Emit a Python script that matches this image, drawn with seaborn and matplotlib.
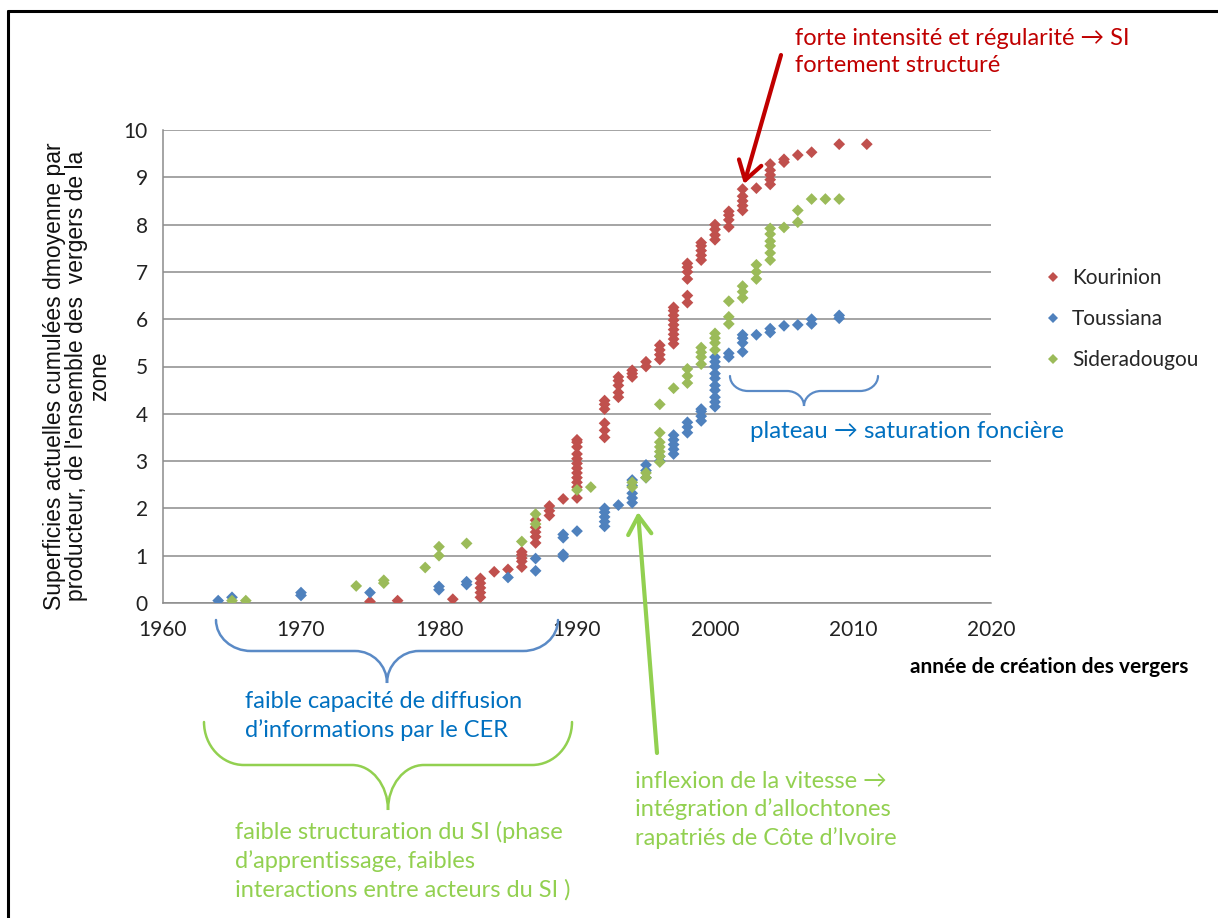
import numpy as np
import pandas as pd
import matplotlib
matplotlib.use("Agg")
import matplotlib.pyplot as plt
import seaborn as sns
from matplotlib.path import Path
from matplotlib.patches import PathPatch, FancyArrowPatch
from matplotlib.lines import Line2D

# ---- data -----------------------------------------------------------------
series_names = ["Kourinion", "Toussiana", "Sideradougou"]
series_colors = ["#C0504D", "#4F81BD", "#9BBB59"]

kourinion_years = [1975, 1977, 1981, 1983, 1984, 1985, 1986, 1987, 1988, 1989,
                   1990, 1992, 1993, 1994, 1995, 1996, 1997, 1998, 1999, 2000,
                   2001, 2002, 2003, 2004, 2005, 2006, 2007, 2009, 2011]
kourinion_values = [[0.03], [0.05], [0.08], [0.12, 0.22, 0.32, 0.42, 0.52], [0.66],
                    [0.71], [0.76, 0.88, 0.95, 1.02, 1.08], [1.27, 1.40, 1.50, 1.60, 1.75],
                    [1.85, 1.95, 2.05], [2.20],
                    [2.22, 2.45, 2.55, 2.65, 2.75, 2.85, 2.95, 3.05, 3.15, 3.30, 3.40, 3.45],
                    [3.50, 3.65, 3.80, 4.10, 4.20, 4.28], [4.35, 4.45, 4.60, 4.70, 4.78],
                    [4.78, 4.85, 4.92], [5.00, 5.10], [5.15, 5.25, 5.35, 5.45],
                    [5.48, 5.58, 5.68, 5.78, 5.88, 5.98, 6.08, 6.18, 6.25],
                    [6.35, 6.50, 6.85, 7.00, 7.10, 7.18], [7.25, 7.35, 7.45, 7.55, 7.62],
                    [7.68, 7.78, 7.90, 8.00], [7.95, 8.10, 8.20, 8.28],
                    [8.30, 8.40, 8.50, 8.60, 8.75], [8.77], [8.85, 8.95, 9.05, 9.15, 9.28],
                    [9.32, 9.38], [9.47], [9.53], [9.70], [9.70]]

toussiana_years = [1964, 1965, 1970, 1975, 1980, 1982, 1985, 1987, 1989, 1990,
                   1992, 1993, 1994, 1995, 1996, 1997, 1998, 1999, 2000, 2001,
                   2002, 2003, 2004, 2005, 2006, 2007, 2009]
toussiana_values = [[0.05], [0.12], [0.16, 0.22], [0.22], [0.28, 0.35], [0.39, 0.45],
                    [0.54], [0.68, 0.94], [0.98, 1.03, 1.38, 1.45], [1.52],
                    [1.62, 1.72, 1.82, 1.92, 2.00], [2.07], [2.12, 2.22, 2.32, 2.48, 2.60],
                    [2.65, 2.80, 2.92], [3.00, 3.10], [3.15, 3.25, 3.35, 3.45, 3.55],
                    [3.60, 3.72, 3.82], [3.85, 3.95, 4.05, 4.10],
                    [4.15, 4.25, 4.35, 4.50, 4.60, 4.75, 4.85, 5.00, 5.10, 5.20],
                    [5.20, 5.28], [5.31, 5.50, 5.60, 5.67], [5.67], [5.72, 5.80],
                    [5.86], [5.88], [5.90, 6.00], [6.02, 6.08]]

sideradougou_years = [1965, 1966, 1974, 1976, 1979, 1980, 1982, 1986, 1987, 1990,
                      1991, 1994, 1995, 1996, 1997, 1998, 1999, 2000, 2001, 2002,
                      2003, 2004, 2005, 2006, 2007, 2008, 2009]
sideradougou_values = [[0.05], [0.05], [0.36], [0.42, 0.48], [0.75], [1.00, 1.19], [1.26],
                       [1.30], [1.67, 1.88], [2.39], [2.45], [2.45, 2.55], [2.65, 2.75],
                       [2.98, 3.10, 3.20, 3.30, 3.40, 3.60, 4.20], [4.54],
                       [4.65, 4.80, 4.95], [5.05, 5.20, 5.30, 5.40], [5.35, 5.50, 5.60, 5.70],
                       [5.90, 6.05, 6.38], [6.45, 6.58, 6.70], [6.85, 7.00, 7.15],
                       [7.25, 7.40, 7.55, 7.65, 7.80, 7.92], [7.94], [8.05, 8.30],
                       [8.54], [8.54], [8.54]]

x_ticks = [1960, 1970, 1980, 1990, 2000, 2010, 2020]
y_ticks = list(range(0, 11))

# ---- build long table -------------------------------------------------------
rows = []
for name, yrs, vals in [("Kourinion", kourinion_years, kourinion_values),
                        ("Toussiana", toussiana_years, toussiana_values),
                        ("Sideradougou", sideradougou_years, sideradougou_values)]:
    for yr, vs in zip(yrs, vals):
        for v in vs:
            rows.append({"annee": yr, "surface": v, "zone": name})
df = pd.DataFrame(rows)

# ---- figure -----------------------------------------------------------------
sns.set_theme(style="white")
plt.rcParams["font.family"] = ["Lato", "DejaVu Sans"]

W, H = 1218, 918
fig = plt.figure(figsize=(W / 100, H / 100), dpi=100)
fig.patch.set_facecolor("white")


def fp(x, y):
    """pixel position (origin top-left) -> figure fraction"""
    return (x / W, 1 - y / H)


ax_l, ax_r, ax_t, ax_b = 163, 991, 130, 603
ax = fig.add_axes([ax_l / W, 1 - ax_b / H, (ax_r - ax_l) / W, (ax_b - ax_t) / H])

sns.scatterplot(data=df, x="annee", y="surface", hue="zone",
                hue_order=series_names, palette=series_colors,
                marker="D", s=36, linewidth=0, legend=False, ax=ax, zorder=3)

ax.set_xlim(1960, 2020)
ax.set_ylim(0, 10)
ax.set_xticks(x_ticks)
ax.set_yticks(y_ticks)
ax.set_xlabel("")
ax.set_ylabel("")
grid_c = "#8C8C8C"
ax.yaxis.grid(True, color=grid_c, linewidth=1.1)
ax.xaxis.grid(False)
for s in ["top", "right"]:
    ax.spines[s].set_visible(False)
for s in ["left", "bottom"]:
    ax.spines[s].set_color(grid_c)
    ax.spines[s].set_linewidth(1.1)
ax.tick_params(axis="x", direction="out", length=5, width=1, color=grid_c,
               pad=7, labelsize=15, labelcolor="#222222")
ax.tick_params(axis="y", direction="out", length=4, width=1, color=grid_c,
               pad=7, labelsize=15, labelcolor="#222222")
ax.set_axisbelow(True)

# legend
handles = [Line2D([], [], marker="D", linestyle="", markersize=5,
                  markerfacecolor=c, markeredgewidth=0) for c in series_colors]
fig.legend(handles, series_names, loc="upper left", bbox_to_anchor=fp(1045, 268),
           frameon=False, fontsize=15, labelspacing=1.02, handlelength=0.8,
           handletextpad=0.5, borderaxespad=0, borderpad=0)

# axis titles
fig.text(*fp(77, 376), "Superficies actuelles cumulées dmoyenne par\n"
         "producteur, de l'ensemble des  vergers de la\nzone",
         rotation=90, ha="center", va="center", multialignment="center",
         fontsize=16.5, family=["Liberation Sans", "DejaVu Sans"],
         color="#111111", linespacing=0.98)
fig.text(*fp(910, 667), "année de création des vergers", ha="left", va="center",
         fontsize=15, fontweight="bold", color="black")

# ---- annotations ----------------------------------------------------------
red_t = "#C00000"
blue_t = "#0070C0"
green_t = "#92D050"
blue_b = "#5A8AC6"

fig.text(*fp(795, 52), "forte intensité et régularité → SI\nfortement structuré",
         ha="left", va="center", fontsize=17, color=red_t, linespacing=1.37)
fig.text(*fp(245, 716), "faible capacité de diffusion\nd’informations par le CER",
         ha="left", va="center", fontsize=17, color=blue_t, linespacing=1.45)
fig.text(*fp(235, 861), "faible structuration du SI (phase\nd’apprentissage, faibles\n"
         "interactions entre acteurs du SI )",
         ha="left", va="center", fontsize=17, color=green_t, linespacing=1.4)
fig.text(*fp(635, 810), "inflexion de la vitesse →\nintégration d’allochtones\n"
         "rapatriés de Côte d’Ivoire",
         ha="left", va="center", fontsize=17, color=green_t, linespacing=1.37)
fig.text(*fp(750, 432), "plateau → saturation foncière",
         ha="left", va="center", fontsize=17.3, color=blue_t)


def brace(x0, x1, ytop, yh, ytip, r_end, r_mid, color, lw=1.8):
    k = 0.552
    xm = (x0 + x1) / 2
    pts = [
        (x0, ytop),
        (x0, ytop + k * (yh - ytop)), (x0 + r_end - k * r_end, yh), (x0 + r_end, yh),
        (xm - r_mid, yh),
        (xm - r_mid + k * r_mid, yh), (xm, ytip - k * (ytip - yh)), (xm, ytip),
        (xm, ytip - k * (ytip - yh)), (xm + r_mid - k * r_mid, yh), (xm + r_mid, yh),
        (x1 - r_end, yh),
        (x1 - r_end + k * r_end, yh), (x1, ytop + k * (yh - ytop)), (x1, ytop),
    ]
    codes = [Path.MOVETO, Path.CURVE4, Path.CURVE4, Path.CURVE4, Path.LINETO,
             Path.CURVE4, Path.CURVE4, Path.CURVE4, Path.CURVE4, Path.CURVE4, Path.CURVE4,
             Path.LINETO, Path.CURVE4, Path.CURVE4, Path.CURVE4]
    verts = [fp(x, y) for x, y in pts]
    fig.add_artist(PathPatch(Path(verts, codes), transform=fig.transFigure,
                             facecolor="none", edgecolor=color, linewidth=lw,
                             capstyle="round"))


brace(216, 558, 620, 651, 683, 35, 32, blue_b)
brace(204, 572, 722, 765, 810, 40, 36, green_t)
brace(730, 878, 376, 391, 406, 18, 17, blue_b, lw=1.6)

# arrows
fig.add_artist(FancyArrowPatch(fp(781, 55), fp(744, 184), transform=fig.transFigure,
                               arrowstyle="->,head_length=0.6,head_width=0.38",
                               mutation_scale=22, color=red_t, linewidth=3,
                               shrinkA=0, shrinkB=0))
fig.add_artist(FancyArrowPatch(fp(657, 753), fp(638, 512), transform=fig.transFigure,
                               arrowstyle="->,head_length=0.6,head_width=0.38",
                               mutation_scale=22, color=green_t, linewidth=3,
                               shrinkA=0, shrinkB=0))

# outer frame (left and top edges)
fig.add_artist(Line2D([8 / W, 8 / W], [0, 1 - 11 / H], transform=fig.transFigure,
                      color="black", linewidth=2.2))
fig.add_artist(Line2D([8 / W, 1], [1 - 11 / H, 1 - 11 / H], transform=fig.transFigure,
                      color="black", linewidth=2.2))

fig.savefig("out.png", dpi=100, facecolor="white")
